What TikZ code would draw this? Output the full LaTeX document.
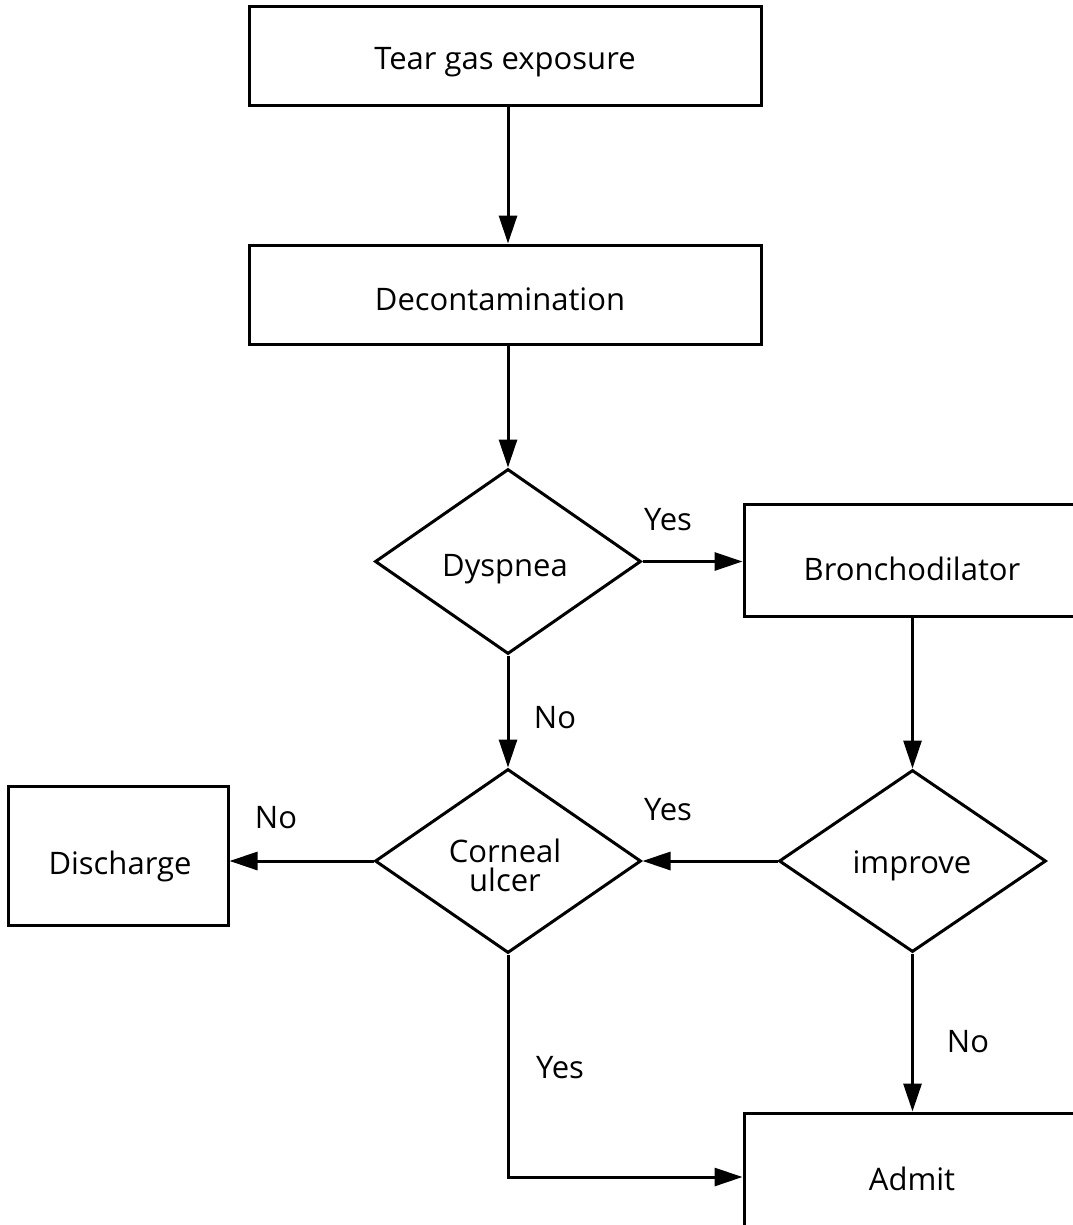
\documentclass[tikz,border=0pt]{standalone}
\usepackage{fontspec}
\setmainfont{Open Sans}
\usetikzlibrary{arrows.meta,shapes.geometric}
\begin{document}
\begin{tikzpicture}[x=1pt,y=-1pt,
  every node/.style={font=\fontsize{31}{31}\selectfont},
  box/.style={draw,line width=3pt,rectangle,inner sep=0pt},
  dia/.style={draw,line width=3pt,diamond,inner sep=0pt,align=center},
  lbl/.style={inner sep=0pt},
  conn/.style={line width=3pt,-{Triangle[length=28pt,width=18pt]}}]
\useasboundingbox (0,0) rectangle (1072,1225);
% nodes
\node[box,minimum width=512pt,minimum height=99pt] (tear) at (505,56.5) {};
\node (teart) at (505,62) {Tear gas exposure};
\node[box,minimum width=512pt,minimum height=99pt] (decon) at (505,294.5) {};
\node (decont) at (500,299) {Decontamination};
\node[dia,minimum width=266pt,minimum height=185pt] (dys) at (508,561.5) {};
\node (dyst) at (505,569) {Dyspnea};
\node[box,minimum width=336pt,minimum height=112pt] (bron) at (912,560) {};
\node (bront) at (912,569) {Bronchodilator};
\node[dia,minimum width=266pt,minimum height=184pt] (corn) at (508,861) {};
\node[align=center] (cornt) at (505,865) {Corneal\\[-2pt]ulcer};
\node[dia,minimum width=267pt,minimum height=182pt] (impr) at (912.5,861) {};
\node (imprt) at (912,866) {improve};
\node[box,minimum width=220pt,minimum height=139pt] (dis) at (118,855.5) {};
\node (dist) at (120,866) {Discharge};
\node[box,minimum width=336pt,minimum height=128pt] (adm) at (912,1177) {};
\node (admt) at (912,1179) {Admit};
% connectors
\draw[conn] (tear.south -| dys.north) -- (decon.north -| dys.north);
\draw[conn] (decon.south -| dys.north) -- (dys.north);
\draw[conn] (dys.east) -- (bron.west |- dys.east);
\node[lbl] (l1) at (668,520) {Yes};
\draw[conn] (bron.south -| impr.north) -- (impr.north);
\draw[conn] (impr.west) -- (corn.east);
\node[lbl] (l2) at (668,810) {Yes};
\draw[conn] (dys.south) -- (corn.north);
\node[lbl] (l3) at (555,718) {No};
\draw[conn] (corn.west) -- (dis.east |- corn.west);
\node[lbl] (l4) at (276,818) {No};
\draw[conn] (corn.south) |- (adm.west);
\node[lbl] (l5) at (560,1068) {Yes};
\draw[conn] (impr.south) -- (adm.north -| impr.south);
\node[lbl] (l6) at (968,1042) {No};
\end{tikzpicture}
\end{document}
